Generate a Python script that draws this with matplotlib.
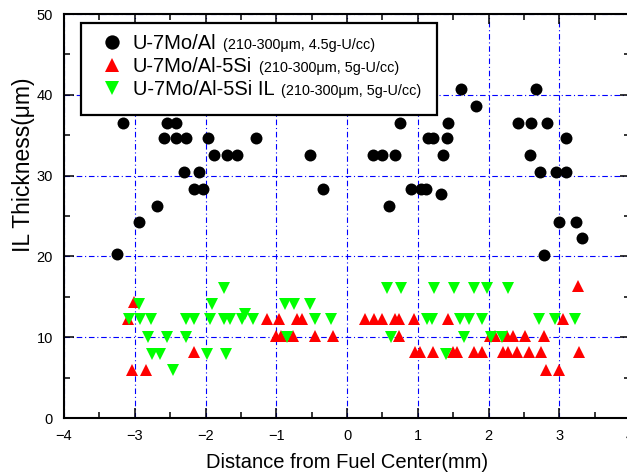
import matplotlib
matplotlib.use("Agg")
import matplotlib.pyplot as plt
from matplotlib.ticker import MultipleLocator
from matplotlib.lines import Line2D
from matplotlib.patches import Rectangle
from matplotlib.offsetbox import AnchoredOffsetbox, HPacker, TextArea, DrawingArea

plt.rcParams["font.family"] = ["Liberation Sans", "DejaVu Sans"]

# ---------------- data ----------------
# U-7Mo/Al (210-300um, 4.5g-U/cc)
al_x = [-3.25, -3.16, -2.94, -2.69, -2.59, -2.54, -2.42, -2.42, -2.28, -2.31,
        -2.16, -2.09, -2.03, -1.96, -1.88, -1.70, -1.56, -1.28, -0.53, -0.34,
        0.37, 0.49, 0.60, 0.68, 0.75, 0.90, 1.05, 1.12, 1.15, 1.22,
        1.33, 1.36, 1.41, 1.43, 1.61, 1.83, 2.41, 2.59, 2.60, 2.67,
        2.73, 2.78, 2.82, 2.95, 2.99, 3.09, 3.09, 3.24, 3.32]
al_y = [20.3, 36.5, 24.3, 26.3, 34.6, 36.5, 36.5, 34.6, 34.6, 30.4,
        28.4, 30.4, 28.4, 34.6, 32.5, 32.5, 32.5, 34.6, 32.5, 28.4,
        32.5, 32.5, 26.3, 32.5, 36.5, 28.4, 28.4, 28.4, 34.6, 34.6,
        27.7, 32.5, 34.6, 36.5, 40.7, 38.6, 36.5, 32.5, 36.5, 40.7,
        30.4, 20.2, 36.5, 30.4, 24.3, 30.4, 34.6, 24.3, 22.3]

# U-7Mo/Al-5Si (210-300um, 5g-U/cc)
si_x = [-3.01,
        -3.09, -1.13, -0.96, -0.71, -0.64, 0.25, 0.38, 0.50, 0.68, 0.74, 0.95, 1.43, 3.05,
        -1.01, -0.94, -0.76, -0.45, -0.20, 0.73, 2.02, 2.09, 2.26, 2.35, 2.52, 2.79,
        -2.16, 0.96, 1.03, 1.22, 1.50, 1.55, 1.79, 1.91, 2.21, 2.28, 2.40, 2.57, 2.74, 3.28,
        -3.04, -2.84, 2.81, 2.99,
        3.27]
si_y = [14.4,
        12.2, 12.2, 12.2, 12.2, 12.2, 12.2, 12.2, 12.2, 12.2, 12.2, 12.2, 12.2, 12.2,
        10.2, 10.2, 10.2, 10.2, 10.2, 10.2, 10.2, 10.2, 10.2, 10.2, 10.2, 10.2,
        8.2, 8.2, 8.2, 8.2, 8.2, 8.2, 8.2, 8.2, 8.2, 8.2, 8.2, 8.2, 8.2, 8.2,
        6.0, 6.0, 6.0, 6.0,
        16.4]

# U-7Mo/Al-5Si IL (210-300um, 5g-U/cc)
il_x = [-1.74, 0.57, 0.77, 1.23, 1.51, 1.79, 1.98, 2.27,
        -2.94, -1.91, -0.88, -0.75, -0.53,
        -3.08, -2.93, -2.77, -2.27, -2.16, -1.94, -1.74, -1.65, -1.49, -1.33,
        -0.45, -0.23, 1.13, 1.20, 1.60, 1.73, 1.91, 2.72, 2.94, 3.22,
        -1.44,
        -2.82, -2.55, -2.27, -0.85, 0.62, 1.65, 2.04, 2.19,
        -2.76, -2.64, -1.98, -1.71, 1.40,
        -2.46]
il_y = [16.1, 16.1, 16.1, 16.1, 16.1, 16.1, 16.1, 16.1,
        14.1, 14.1, 14.1, 14.1, 14.1,
        12.2, 12.2, 12.2, 12.2, 12.2, 12.2, 12.2, 12.2, 12.2, 12.2,
        12.2, 12.2, 12.2, 12.2, 12.2, 12.2, 12.2, 12.2, 12.2, 12.2,
        12.9,
        10.0, 10.0, 10.0, 10.0, 10.0, 10.0, 10.0, 10.0,
        7.9, 7.9, 7.9, 7.9, 7.9,
        6.0]

legend_main = ["U-7Mo/Al", "U-7Mo/Al-5Si", "U-7Mo/Al-5Si IL"]
legend_sub = ["(210-300μm, 4.5g-U/cc)", "(210-300μm, 5g-U/cc)", "(210-300μm, 5g-U/cc)"]

# ---------------- plot ----------------
W, H = 627, 476
fig = plt.figure(figsize=(W / 100, H / 100), dpi=100)
ax = fig.add_axes([0.1021, 0.1218, 0.9027, 0.8487])

styles = [dict(marker="o", color="black", ms=8.6),
          dict(marker="^", color="red", ms=8.0),
          dict(marker="v", color="#00ff00", ms=8.0)]
series = [(al_x, al_y), (si_x, si_y), (il_x, il_y)]
for (xs, ys), st in zip(series, styles):
    ax.plot(xs, ys, linestyle="none", marker=st["marker"], color=st["color"],
            markersize=st["ms"], markeredgewidth=0, zorder=3)

ax.set_xlim(-4, 4)
ax.set_ylim(0, 50)
ax.xaxis.set_major_locator(MultipleLocator(1))
ax.xaxis.set_minor_locator(MultipleLocator(0.5))
ax.yaxis.set_major_locator(MultipleLocator(10))
ax.yaxis.set_minor_locator(MultipleLocator(5))
ax.tick_params(which="both", direction="in", top=True, right=True, width=1.1, labelsize=10.5)
ax.tick_params(which="major", length=7)
ax.tick_params(which="minor", length=4.5)
ax.tick_params(axis="x", pad=8)
ax.tick_params(axis="y", pad=8)
for sp in ax.spines.values():
    sp.set_linewidth(1.5)

ax.grid(True, which="major", color="blue", linewidth=0.8, linestyle=(0, (5, 2.5, 1, 2.5)))

ax.set_xlabel("Distance from Fuel Center(mm)", fontsize=14.5, va="center")
ax.xaxis.set_label_coords(0.5, -0.111)
ax.set_ylabel("IL Thickness(μm)", fontsize=16.5, va="center")
ax.yaxis.set_label_coords(-0.071, 0.627)


# legend: frame drawn as a rectangle, rows with mixed font sizes
def px2ax(px, py):
    return ((px - 64) / 566, (418 - py) / 404)


x0, y0 = px2ax(80.7, 115)
x1, y1 = px2ax(437.3, 22.7)
ax.add_patch(Rectangle((x0, y0), x1 - x0, y1 - y0, transform=ax.transAxes,
                       facecolor="white", edgecolor="black", linewidth=1.6,
                       zorder=5, clip_on=False))

row_y = [43.7, 66.5, 89.5]
da_w = 20  # points
for st, main, sub, ry in zip(styles, legend_main, legend_sub, row_y):
    da = DrawingArea(da_w, 10, 0, 0)
    da.add_artist(Line2D([da_w / 2], [5], linestyle="none", marker=st["marker"],
                         color=st["color"], markersize=st["ms"] * 1.2, markeredgewidth=0))
    t1 = TextArea(main, textprops=dict(size=14.5))
    t2 = TextArea(sub, textprops=dict(size=10.4))
    row = HPacker(children=[da, t1, t2], align="baseline", pad=0, sep=5)
    anchor = px2ax(111.7 - da_w / 2 * 100 / 72, ry)
    ab = AnchoredOffsetbox(loc="center left", child=row, pad=0, borderpad=0,
                           frameon=False, bbox_to_anchor=anchor,
                           bbox_transform=ax.transAxes)
    ab.set_zorder(6)
    ax.add_artist(ab)

fig.savefig("out.png", dpi=100)
